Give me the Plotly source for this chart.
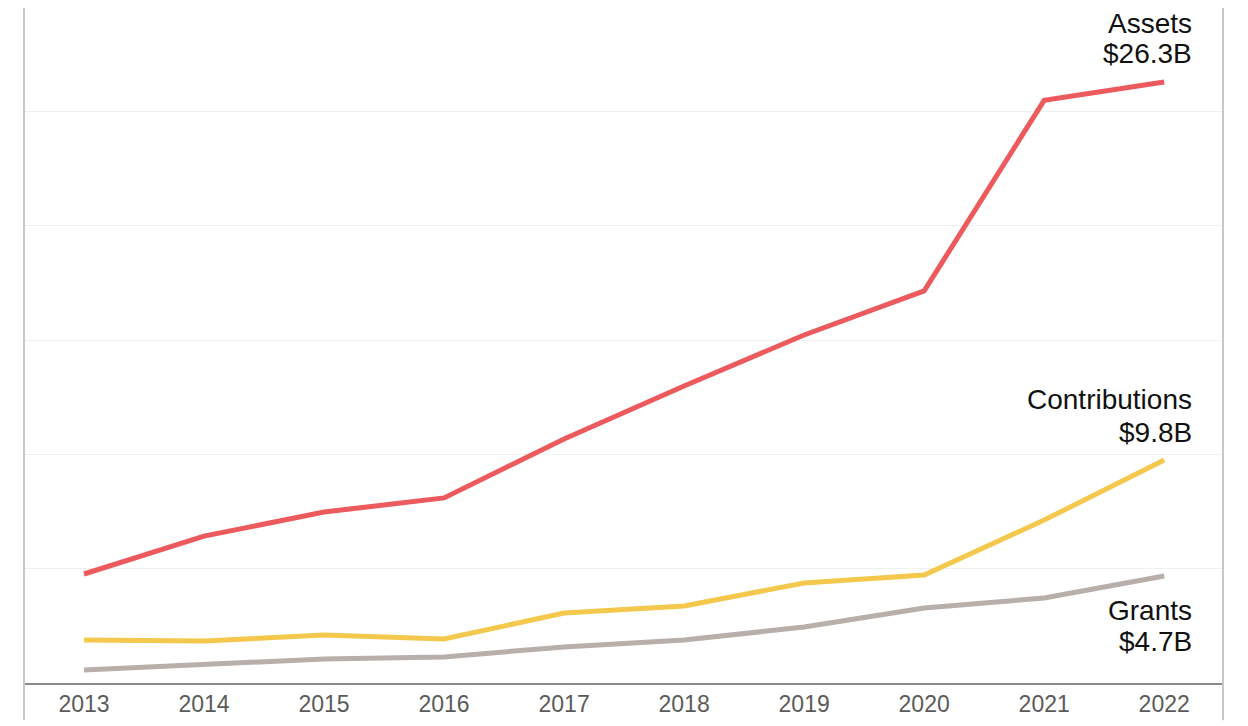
import plotly.graph_objects as go

years = [2013, 2014, 2015, 2016, 2017, 2018, 2019, 2020, 2021, 2022]
assets = [4.77, 6.43, 7.48, 8.10, 10.68, 13.0, 15.23, 17.16, 25.5, 26.3]
contributions = [1.88, 1.84, 2.10, 1.93, 3.06, 3.37, 4.38, 4.73, 7.13, 9.76]
grants = [0.57, 0.83, 1.05, 1.14, 1.58, 1.88, 2.45, 3.28, 3.72, 4.68]

series_names = ["Assets", "Contributions", "Grants"]
series_labels = ["$26.3B", "$9.8B", "$4.7B"]
series_colors = ["#EC5A5E", "#F4C84C", "#B8AEAA"]

FONT = "Liberation Sans, Arial, sans-serif"

fig = go.Figure()
for name, vals, col in zip(series_names, [assets, contributions, grants], series_colors):
    fig.add_trace(go.Scatter(x=years, y=vals, mode="lines", name=name,
                             line=dict(color=col, width=5), hoverinfo="x+y"))

# end labels (two lines each, placed relative to the last value)
offsets = [(2.58, 1.26), (2.65, 1.20), (-1.51, -2.86)]
for name, lab, vals, (o1, o2) in zip(series_names, series_labels,
                                     [assets, contributions, grants], offsets):
    for txt, off in [(name, o1), (lab, o2)]:
        fig.add_annotation(x=2022.252, y=vals[-1] + off, xref="x", yref="y",
                           text=txt, showarrow=False,
                           xanchor="right", yanchor="middle", align="right",
                           font=dict(family=FONT, size=28, color="#111111"))

# frame side lines
for xp in [0, 1]:
    fig.add_shape(type="line", xref="paper", yref="paper", x0=xp, x1=xp, y0=-0.055, y1=1,
                  line=dict(color="#C8C8C8", width=2))

fig.update_layout(
    width=1248, height=726,
    margin=dict(l=16, r=33, t=0, b=51),
    plot_bgcolor="white", paper_bgcolor="white",
    showlegend=False,
    font=dict(family=FONT),
)
fig.update_xaxes(range=[2012.5, 2022.49], tickvals=years, ticktext=[str(y) for y in years],
                 showgrid=False, zeroline=False, showline=True, linecolor="#8A8A8A", linewidth=1.5,
                 ticks="", tickfont=dict(size=23, color="#5A5A5A"))
fig.update_yaxes(range=[0, 29.54], dtick=5, showgrid=True, gridcolor="#F0F0F0", gridwidth=1,
                 zeroline=False, showticklabels=False, ticks="")

fig.write_html("out.html")
